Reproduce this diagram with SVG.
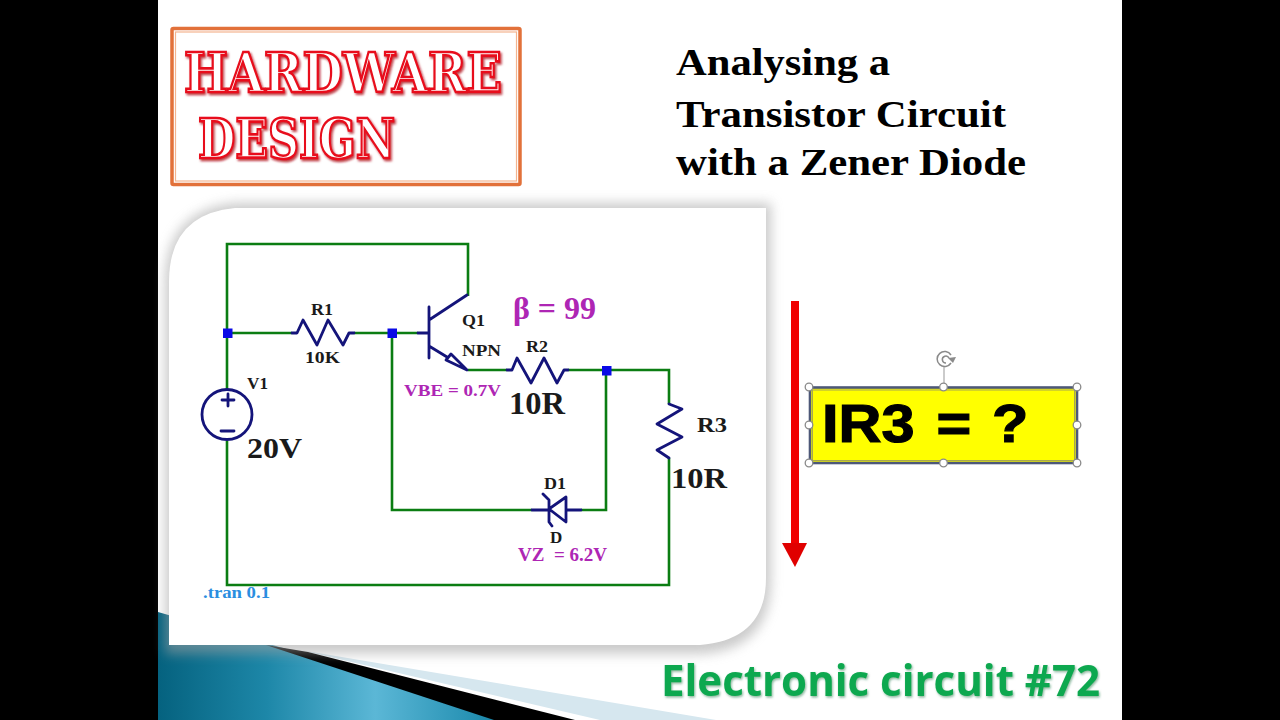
<svg xmlns="http://www.w3.org/2000/svg" width="1280" height="720" viewBox="0 0 1280 720">
<style>
.w{fill:none;stroke:#0b7d12;stroke-width:2.6;stroke-linejoin:miter}
.n{fill:none;stroke:#14147a;stroke-width:2.8;stroke-linejoin:round;stroke-linecap:round}
.j{fill:#0a0ae6}
.t{font-family:"Liberation Serif",serif;font-weight:700;fill:#1a1a1a}
.p{font-family:"Liberation Serif",serif;font-weight:700;fill:#ae26b4}
.h{font-family:"Liberation Serif",serif;font-weight:700;font-size:38px;fill:#000}
.l{font-family:"DejaVu Serif",serif;font-weight:700;fill:#fff;stroke:#e8101c;stroke-width:2.6;filter:url(#ls)}
.hd{fill:#fff;stroke:#8a8a8a;stroke-width:1.3}
</style>
<defs>
<linearGradient id="bl" x1="158" y1="0" x2="520" y2="0" gradientUnits="userSpaceOnUse">
<stop offset="0" stop-color="#05627f"/><stop offset=".3" stop-color="#1d87a8"/><stop offset=".6" stop-color="#5bb7d6"/><stop offset=".85" stop-color="#2a94b6"/><stop offset="1" stop-color="#0c7a9c"/>
</linearGradient>
<filter id="sh" x="-10%" y="-10%" width="120%" height="120%"><feGaussianBlur stdDeviation="6"/></filter>
<filter id="ls" x="-5%" y="-10%" width="110%" height="125%"><feDropShadow dx="1.5" dy="2" stdDeviation="1" flood-color="#b0101a" flood-opacity=".8"/></filter>
<filter id="gs" x="-5%" y="-10%" width="110%" height="125%"><feDropShadow dx="1" dy="1.5" stdDeviation="1" flood-color="#0a6a38" flood-opacity=".5"/></filter>
</defs>

<rect width="1280" height="720" fill="#000"/>
<rect x="158" width="964" height="720" fill="#fff"/>

<g id="slide-corner">
<polygon points="158,612 290,650 500,720 158,720" fill="url(#bl)"/>
<polygon points="300,650 716,720 600,720" fill="#d6e7ef"/>
<polygon points="266,645 308,652 575,720 494,720" fill="#000"/>
</g>

<g id="panel">
<path d="M165,282Q165,210 235,203H771V580Q771,650 700,654H165Z" fill="#a0a0a0" opacity=".55" filter="url(#sh)"/>
<path d="M169,282Q169,214 235,208H766V578Q766,640 700,645H169Z" fill="#fff"/>
</g>

<g id="logo">
<rect x="172" y="28.500" width="348" height="156" fill="#fff" stroke="#e2713a" stroke-width="3.500" rx="1.500"/>
<rect x="175.500" y="32" width="341" height="149" fill="none" stroke="#f3b48f" stroke-width="1.200"/>
<text class="l" x="184" y="92" font-size="55" textLength="318" lengthAdjust="spacingAndGlyphs">HARDWARE</text>
<text class="l" x="198" y="158" font-size="55" textLength="197" lengthAdjust="spacingAndGlyphs">DESIGN</text>
</g>

<g id="title">
<text class="h" x="676" y="75" textLength="214" lengthAdjust="spacingAndGlyphs">Analysing a</text>
<text class="h" x="676" y="127" textLength="330" lengthAdjust="spacingAndGlyphs">Transistor Circuit</text>
<text class="h" x="676" y="175" textLength="350" lengthAdjust="spacingAndGlyphs">with a Zener Diode</text>
</g>

<g id="connectors">
<path class="w" d="M468,296V244H227V390"/>
<path class="w" d="M227,441V585H669V458"/>
<path class="w" d="M227,333H292"/>
<path class="w" d="M354,333H418"/>
<path class="w" d="M392,333V510H532"/>
<path class="w" d="M468,370H507"/>
<path class="w" d="M568,370H669V404"/>
<path class="w" d="M606,370V510H581"/>
</g>

<g id="J1"><rect class="j" x="223" y="328.500" width="9.500" height="9.500"/></g>
<g id="J2"><rect class="j" x="387.500" y="328.500" width="9.500" height="9.500"/></g>
<g id="J3"><rect class="j" x="602" y="366" width="9.500" height="9.500"/></g>

<g id="V1">
<circle class="n" cx="227" cy="414.500" r="25"/>
<path class="n" d="M222,400H234M228,394V406M221,431H234"/>
<text class="t" x="247" y="389" font-size="17" textLength="21" lengthAdjust="spacingAndGlyphs">V1</text>
<text class="t" x="247" y="458" font-size="29" textLength="55" lengthAdjust="spacingAndGlyphs">20V</text>
</g>

<g id="R1">
<path class="n" d="M292,333H297L303,320L317,345L328,320L343,345L349,333H354"/>
<text class="t" x="311" y="315" font-size="16" textLength="22" lengthAdjust="spacingAndGlyphs">R1</text>
<text class="t" x="305" y="363" font-size="17" textLength="35" lengthAdjust="spacingAndGlyphs">10K</text>
</g>

<g id="Q1">
<path class="n" d="M418,333H429M429,307V358M429,320L467,295M429,346L447,357"/>
<path class="n" d="M446,360L451,354L467,370Z" fill="#fff"/>
<text class="t" x="462" y="326" font-size="16" textLength="23" lengthAdjust="spacingAndGlyphs">Q1</text>
<text class="t" x="462" y="356" font-size="16" textLength="39" lengthAdjust="spacingAndGlyphs">NPN</text>
<text class="p" x="513" y="319" font-size="32">β = 99</text>
<text class="p" x="404" y="396" font-size="17" textLength="97" lengthAdjust="spacingAndGlyphs">VBE = 0.7V</text>
</g>

<g id="R2">
<path class="n" d="M507,370H512L517,358L531,383L544,358L557,383L564,370H568"/>
<text class="t" x="526" y="352" font-size="16" textLength="22" lengthAdjust="spacingAndGlyphs">R2</text>
<text class="t" x="509" y="414" font-size="31" textLength="56" lengthAdjust="spacingAndGlyphs">10R</text>
</g>

<g id="R3">
<path class="n" d="M669,404L682,409L657,424L682,437L657,450L669,458"/>
<text class="t" x="697" y="432" font-size="20" textLength="30" lengthAdjust="spacingAndGlyphs">R3</text>
<text class="t" x="671" y="488" font-size="29" textLength="56" lengthAdjust="spacingAndGlyphs">10R</text>
</g>

<g id="D1">
<path class="n" d="M532,510H548M566,510H581M566,497V522L549,509ZM543,494L549,500V522L552,526"/>
<text class="t" x="544" y="489" font-size="17" textLength="22" lengthAdjust="spacingAndGlyphs">D1</text>
<text class="t" x="550" y="543" font-size="17">D</text>
<text class="p" x="518" y="561" font-size="18" xml:space="preserve" textLength="89" lengthAdjust="spacingAndGlyphs">VZ  = 6.2V</text>
</g>

<g id="directive">
<text x="203" y="598" font-family="Liberation Serif,serif" font-weight="700" font-size="17" fill="#2a8ee0" textLength="67" lengthAdjust="spacingAndGlyphs">.tran 0.1</text>
</g>

<g id="current-arrow">
<rect x="791" y="301" width="8" height="244" fill="#f00000"/>
<polygon points="782,543 807,543 795,567" fill="#e00000"/>
</g>

<g id="question">
<path d="M944,367V387" stroke="#a8a8a8" stroke-width="1.200" fill="none"/>
<path d="M951,363A7.500,7.500 0 1 1 951,355M946,363A3.500,3.500 0 1 1 949,358" fill="none" stroke="#8a8a8a" stroke-width="1.500"/>
<path d="M948,358L956,357L953,363Z" fill="#8a8a8a"/>
<rect x="810" y="387.500" width="267" height="75.500" fill="#ffff00" stroke="#4d5878" stroke-width="2.600"/>
<rect x="812.500" y="390" width="262" height="70.500" fill="none" stroke="#a8a850" stroke-width="1"/>
<text transform="translate(822,442) scale(1.1,1)" font-family="Liberation Sans,sans-serif" font-weight="700" font-size="54" fill="#000" stroke="#000" stroke-width="1.200"><tspan x="0">IR3</tspan><tspan x="104">=</tspan><tspan x="154.500">?</tspan></text>
<circle class="hd" cx="809" cy="387" r="3.800"/><circle class="hd" cx="943.500" cy="387" r="3.800"/><circle class="hd" cx="1077" cy="387" r="3.800"/>
<circle class="hd" cx="809" cy="425" r="3.800"/><circle class="hd" cx="1077" cy="425" r="3.800"/>
<circle class="hd" cx="809" cy="463" r="3.800"/><circle class="hd" cx="943.500" cy="463" r="3.800"/><circle class="hd" cx="1077" cy="463" r="3.800"/>
</g>

<g id="caption">
<text x="661" y="696" font-family="Open Sans,sans-serif" font-weight="700" font-size="43" fill="#10a850" filter="url(#gs)" textLength="439" lengthAdjust="spacingAndGlyphs">Electronic circuit #72</text>
</g>
</svg>
